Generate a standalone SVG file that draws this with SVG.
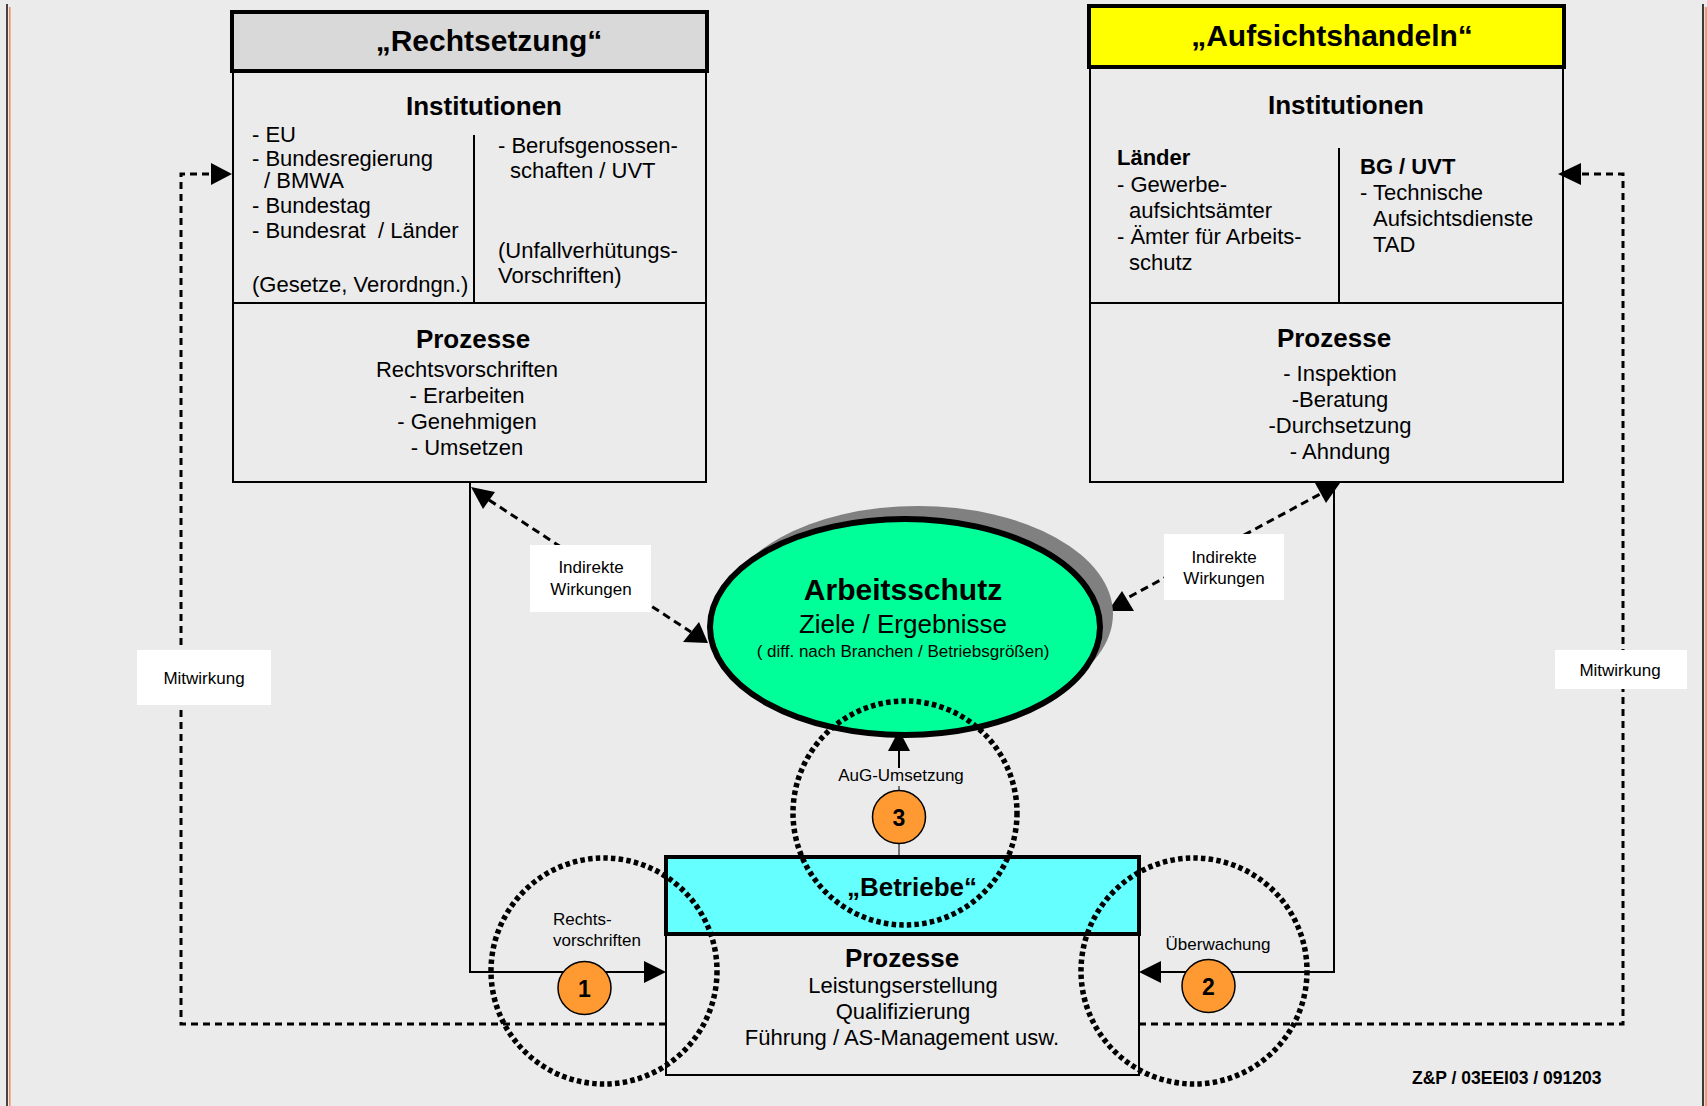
<svg xmlns="http://www.w3.org/2000/svg" width="1707" height="1106" viewBox="0 0 1707 1106">
<defs>
<style>
text{font-family:"Liberation Sans",Arial,sans-serif;fill:#000}
.b{font-weight:bold}
.t30{font-size:30px;font-weight:bold}
.t26{font-size:26px;font-weight:bold}
.t22{font-size:22px}
.t17{font-size:17px}
.m{text-anchor:middle}
.box{fill:none;stroke:#000;stroke-width:2}
.hdr{stroke:#000;stroke-width:4}
.ln{fill:none;stroke:#000;stroke-width:2}
.dash{fill:none;stroke:#000;stroke-width:3;stroke-dasharray:7 5}
.dash2{fill:none;stroke:#000;stroke-width:3;stroke-dasharray:8 5}
.dot{fill:none;stroke:#000;stroke-width:5.5;stroke-dasharray:4.5 3.2}
.lbl{fill:#fff}
.num{fill:#ff9a33;stroke:#000;stroke-width:1.5}
</style>
</defs>
<rect x="0" y="0" width="1707" height="1106" fill="#ebebeb"/>
<line x1="7" y1="4" x2="7" y2="1106" stroke="#444" stroke-width="2"/>
<line x1="9.8" y1="7" x2="9.8" y2="1106" stroke="#f08a64" stroke-width="1.5"/>
<line x1="1703" y1="4" x2="1703" y2="1106" stroke="#000" stroke-width="1.5"/>
<line x1="1706" y1="7" x2="1706" y2="1106" stroke="#f09a78" stroke-width="2.5"/>

<g id="connectors">
  <path class="dash" d="M666,1024 H181 V174 H211"/>
  <polygon points="232,174 211,163 211,185"/>
  <path class="dash" d="M1139,1024 H1623 V174 H1581"/>
  <polygon points="1558,174 1581,163 1581,185"/>
  <path class="ln" d="M470,482 V972 H645"/>
  <polygon points="666,972 644,961 644,983"/>
  <path class="ln" d="M1334,482 V972 H1160"/>
  <polygon points="1139,972 1161,961 1161,983"/>
  <line class="dash2" x1="489" y1="500" x2="691" y2="632"/>
  <polygon points="471,487 495,492 483,509"/>
  <polygon points="708,643 683,642 699,622"/>
  <line class="dash2" x1="1118" y1="603" x2="1322" y2="493"/>
  <polygon points="1315,483 1340,483 1326,503"/>
  <polygon points="1108,611 1134,611 1122,591"/>
  <line class="ln" x1="899" y1="749" x2="899" y2="768"/>
  <polygon points="899,730 888,751 910,751"/>
  <line x1="899" y1="786" x2="899" y2="791" stroke="#000" stroke-width="1"/>
  <line x1="899" y1="843" x2="899" y2="856" stroke="#000" stroke-width="1"/>
</g>

<g id="rechtsetzung">
  <rect class="hdr" x="232" y="12" width="475" height="59" fill="#d9d9d9"/>
  <rect class="box" x="233" y="71" width="473" height="411"/>
  <line class="ln" x1="233" y1="303" x2="706" y2="303"/>
  <line class="ln" x1="474" y1="135" x2="474" y2="303"/>
  <text class="t30 m" x="489" y="51">„Rechtsetzung“</text>
  <text class="t26 m" x="484" y="115">Institutionen</text>
  <text class="t22" x="252" y="142">- EU</text>
  <text class="t22" x="252" y="166">- Bundesregierung</text>
  <text class="t22" x="264" y="188">/ BMWA</text>
  <text class="t22" x="252" y="213">- Bundestag</text>
  <text class="t22" x="252" y="238" xml:space="preserve">- Bundesrat  / Länder</text>
  <text class="t22" x="252" y="292">(Gesetze, Verordngn.)</text>
  <text class="t22" x="498" y="153">- Berufsgenossen-</text>
  <text class="t22" x="510" y="178">schaften / UVT</text>
  <text class="t22" x="498" y="258">(Unfallverhütungs-</text>
  <text class="t22" x="498" y="283">Vorschriften)</text>
  <text class="t26 m" x="473" y="348">Prozesse</text>
  <text class="t22 m" x="467" y="377">Rechtsvorschriften</text>
  <text class="t22 m" x="467" y="403">- Erarbeiten</text>
  <text class="t22 m" x="467" y="429">- Genehmigen</text>
  <text class="t22 m" x="467" y="455">- Umsetzen</text>
</g>

<g id="aufsichtshandeln">
  <rect class="hdr" x="1089" y="6" width="475" height="61" fill="#ffff00"/>
  <rect class="box" x="1090" y="67" width="473" height="415"/>
  <line class="ln" x1="1090" y1="303" x2="1563" y2="303"/>
  <line class="ln" x1="1339" y1="148" x2="1339" y2="303"/>
  <text class="t30 m" x="1332" y="46">„Aufsichtshandeln“</text>
  <text class="t26 m" x="1346" y="114">Institutionen</text>
  <text class="t22 b" x="1117" y="165">Länder</text>
  <text class="t22" x="1117" y="192">- Gewerbe-</text>
  <text class="t22" x="1129" y="218">aufsichtsämter</text>
  <text class="t22" x="1117" y="244">- Ämter für Arbeits-</text>
  <text class="t22" x="1129" y="270">schutz</text>
  <text class="t22 b" x="1360" y="174">BG / UVT</text>
  <text class="t22" x="1360" y="200">- Technische</text>
  <text class="t22" x="1373" y="226">Aufsichtsdienste</text>
  <text class="t22" x="1373" y="252">TAD</text>
  <text class="t26 m" x="1334" y="347">Prozesse</text>
  <text class="t22 m" x="1340" y="381">- Inspektion</text>
  <text class="t22 m" x="1340" y="407">-Beratung</text>
  <text class="t22 m" x="1340" y="433">-Durchsetzung</text>
  <text class="t22 m" x="1340" y="459">- Ahndung</text>
</g>

<g id="arbeitsschutz">
  <ellipse cx="918" cy="614" rx="195" ry="108" fill="#808080"/>
  <ellipse cx="905" cy="627" rx="195" ry="108" fill="#00ff99" stroke="#000" stroke-width="6"/>
  <text class="m b" x="903" y="600" style="font-size:30px">Arbeitsschutz</text>
  <text class="m" x="903" y="633" style="font-size:26px">Ziele / Ergebnisse</text>
  <text class="m" x="903" y="657" style="font-size:17px">( diff. nach Branchen / Betriebsgrößen)</text>
</g>

<g id="betriebe">
  <rect class="box" x="666" y="934" width="473" height="141"/>
  <rect class="hdr" x="666" y="857" width="473" height="77" fill="#66ffff"/>
  <text class="t26 m" x="912" y="896">„Betriebe“</text>
  <text class="t26 m" x="902" y="967">Prozesse</text>
  <text class="t22 m" x="903" y="993">Leistungserstellung</text>
  <text class="t22 m" x="903" y="1019">Qualifizierung</text>
  <text class="t22 m" x="902" y="1045">Führung / AS-Management usw.</text>
</g>

<g id="label-mitwirkung-links">
  <rect class="lbl" x="137" y="650" width="134" height="55"/>
  <text class="t17 m" x="204" y="684">Mitwirkung</text>
</g>
<g id="label-mitwirkung-rechts">
  <rect class="lbl" x="1555" y="650" width="132" height="39"/>
  <text class="t17 m" x="1620" y="676">Mitwirkung</text>
</g>
<g id="label-indirekte-links">
  <rect class="lbl" x="530" y="545" width="121" height="67"/>
  <text class="t17 m" x="591" y="573">Indirekte</text>
  <text class="t17 m" x="591" y="595">Wirkungen</text>
</g>
<g id="label-indirekte-rechts">
  <rect class="lbl" x="1164" y="534" width="120" height="66"/>
  <text class="t17 m" x="1224" y="563">Indirekte</text>
  <text class="t17 m" x="1224" y="584">Wirkungen</text>
</g>
<g id="label-rechtsvorschriften">
  <text class="t17" x="553" y="925">Rechts-</text>
  <text class="t17" x="553" y="946">vorschriften</text>
</g>
<g id="label-ueberwachung">
  <text class="t17 m" x="1218" y="950">Überwachung</text>
</g>
<g id="label-aug">
  <text class="t17 m" x="901" y="781">AuG-Umsetzung</text>
</g>

<g id="zone-1">
  <circle class="dot" cx="604" cy="971" r="113"/>
  <circle class="num" cx="584.5" cy="988" r="26.5"/>
  <text class="m b" x="584.5" y="997" style="font-size:23px">1</text>
</g>
<g id="zone-2">
  <circle class="dot" cx="1194" cy="971" r="113"/>
  <circle class="num" cx="1208.5" cy="986" r="26.5"/>
  <text class="m b" x="1208.5" y="995" style="font-size:23px">2</text>
</g>
<g id="zone-3">
  <circle class="dot" cx="905" cy="813" r="112"/>
  <circle class="num" cx="899" cy="817" r="26.5"/>
  <text class="m b" x="899" y="826" style="font-size:23px">3</text>
</g>

<text class="b" x="1412" y="1084" style="font-size:17.5px">Z&amp;P / 03EEI03 / 091203</text>
</svg>
